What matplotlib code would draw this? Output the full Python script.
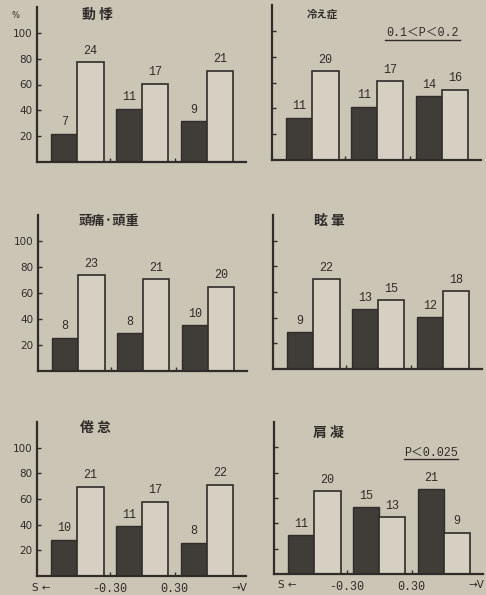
import numpy as np
import matplotlib
matplotlib.use('Agg')
import matplotlib.pyplot as plt
from matplotlib.lines import Line2D

# ---- data ----
titles = ['動悸', '冷え症', '頭痛・頭重', '眩暈', '倦怠', '肩凝']
# counts printed above bars (dark = first bar, white = second bar)
n_dark = [[7, 11, 9], [11, 11, 14], [8, 8, 10], [9, 13, 12], [10, 11, 8], [11, 15, 21]]
n_white = [[24, 17, 21], [20, 17, 16], [23, 21, 20], [22, 15, 18], [21, 17, 22], [20, 13, 9]]
# bar heights in %
pct_dark = [[22, 41, 31.5], [32.5, 41, 49.4], [25.5, 29, 35.3],
            [28.6, 46.6, 40.2], [28.1, 38.7, 26], [30.7, 52.8, 66.8]]
pct_white = [[77.3, 60.7, 70.8], [68.8, 61, 54.5], [73.8, 70.6, 65],
             [69.8, 53.4, 60.6], [69.7, 58, 71.2], [65.2, 44.8, 32.5]]
p_notes = {1: '0.1＜P＜0.2', 5: 'P＜0.025'}
yticks = [20, 40, 60, 80, 100]
boundary_labels = ['-0.30', '0.30']

BG = '#cbc5b6'
INK = '#2f2c29'
DARK = '#403c38'
LIGHT = '#d6d0c2'

W, H = 486, 595
fig = plt.figure(figsize=(W / 100, H / 100), dpi=100, facecolor=BG)

# axes placement in pixels: (left, baseline, top)
boxes = [(37, 162, 7), (272, 160, 5), (38, 371, 215),
         (273, 369, 215), (37, 576, 422), (274, 574, 422)]
ax_w = 209

title_pos = [(0.29, 0.95), (0.24, 0.94), (0.34, 0.96),
             (0.27, 0.96), (0.28, 0.96), (0.26, 0.93)]
title_txt = ['動 悸', '冷え症', '頭痛·頭重', '眩 暈', '倦 怠', '肩 凝']
title_fs = [10, 7.5, 9.5, 10, 10, 10]
note_pos = {1: (0.72, 0.82, 0.18), 5: (0.75, 0.80, 0.13)}

x = np.arange(3)
bw = 0.405

for i in range(6):
    left, base, top = boxes[i]
    ax = fig.add_axes([left / W, (H - base) / H, ax_w / W, (base - top) / H])
    ax.set_facecolor('none')
    ax.bar(x - bw, pct_dark[i], width=bw, align='edge', color=DARK,
           edgecolor=INK, linewidth=1.0)
    ax.bar(x, pct_white[i], width=bw, align='edge', color=LIGHT,
           edgecolor=INK, linewidth=1.2)
    for j in range(3):
        ax.annotate(str(n_dark[i][j]), (x[j] - bw / 2, pct_dark[i][j]),
                    xytext=(0, 4), textcoords='offset points', ha='center',
                    va='bottom', fontsize=8.5, family='Liberation Mono', color=INK)
        ax.annotate(str(n_white[i][j]), (x[j] + bw / 2, pct_white[i][j]),
                    xytext=(0, 4), textcoords='offset points', ha='center',
                    va='bottom', fontsize=8.5, family='Liberation Mono', color=INK)

    ax.set_xlim(-0.62, 2.6)
    ax.set_ylim(0, 120)
    for s in ['top', 'right']:
        ax.spines[s].set_visible(False)
    for s in ['left', 'bottom']:
        ax.spines[s].set_linewidth(1.6)
        ax.spines[s].set_color(INK)

    ax.set_yticks(yticks)
    ax.tick_params(axis='y', direction='in', length=3, width=1, colors=INK,
                   pad=3, labelsize=7.5, labelleft=(i % 2 == 0))
    ax.set_xticks([0.5, 1.5])
    ax.tick_params(axis='x', direction='in', length=3, width=1, colors=INK,
                   pad=5, labelbottom=(i >= 4))
    if i >= 4:
        ax.set_xticklabels(boundary_labels, family='Liberation Mono', fontsize=8.5)
        sx = -0.56 if i == 4 else -0.42
        ax.text(sx, -9, 'S ←', ha='center', va='center', fontsize=7.5,
                family='DejaVu Sans', color=INK, clip_on=False)
        ax.text(2.5, -9, '→V', ha='center', va='center', fontsize=7.5,
                family='DejaVu Sans', color=INK, clip_on=False)

    tx, ty = title_pos[i]
    ax.text(tx, ty, title_txt[i], transform=ax.transAxes, ha='center', va='center',
            fontsize=title_fs[i], fontweight='bold',
            family=['Noto Sans CJK JP', 'DejaVu Sans'], color=INK)

    if i in p_notes:
        px, py, half = note_pos[i]
        ax.text(px, py, p_notes[i], transform=ax.transAxes, ha='center',
                va='center', fontsize=8.5,
                family=['Liberation Mono', 'Noto Sans CJK JP'], color=INK)
        ax.add_line(Line2D([px - half, px + half], [py - 0.045, py - 0.045],
                           transform=ax.transAxes, color=INK, linewidth=1.0,
                           clip_on=False))

fig.text(15 / W, 1 - 15 / H, '%', fontsize=6, ha='center', va='center', color=INK)

fig.savefig('out.png', dpi=100, facecolor=BG)
